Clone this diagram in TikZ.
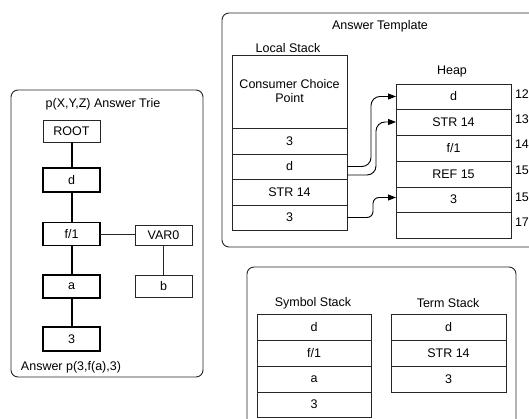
\documentclass[tikz,border=0pt]{standalone}
\usepackage{fontspec}
\setmainfont{Liberation Sans}
\usetikzlibrary{arrows.meta}
\begin{document}
\begin{tikzpicture}[x=1pt,y=-1pt,
  every node/.style={font=\fontsize{12.5}{15}\selectfont, inner sep=0pt, outer sep=0pt, text=black},
  frame/.style={draw=black!85, line width=0.9pt, rounded corners=7pt},
  thinbox/.style={draw=black!85, line width=0.8pt, minimum width=57, minimum height=22},
  thickbox/.style={draw=black, line width=1.9pt, minimum width=57, minimum height=23},
  cell/.style={draw=black!85, line width=0.8pt, minimum width=115},
  thickline/.style={draw=black, line width=2pt},
  thinline/.style={draw=black!85, line width=0.8pt},
  ptr/.style={draw=black, line width=0.9pt, rounded corners=9pt, -{Triangle[length=8pt,width=6pt]}},
  addr/.style={anchor=west}
]
\clip (0,0) rectangle (529,419);
\fill[white] (0,0) rectangle (529,419);

% ---------- Answer Trie ----------
\draw[frame] (11,90) rectangle (203,377);
\node (trietitle) at (103,104) {p(X,Y,Z) Answer Trie};
\node[thinbox] (root) at (71.5,131) {ROOT};
\node[thickbox, minimum height=24] (td) at (71.5,180) {d};
\node[thickbox] (tf) at (71.5,234) {f/1};
\node[thickbox] (ta) at (71.5,286.5) {a};
\node[thickbox, minimum height=24] (t3) at (71.5,339) {3};
\node[thinbox, minimum height=20] (var) at (163.5,235) {VAR0};
\node[thinbox] (tb) at (163.5,286) {b};
\node (answer) at (71,367) {Answer p(3,f(a),3)};
\draw[thickline] (root) -- (td);
\draw[thickline] (td) -- (tf);
\draw[thickline] (tf) -- (ta);
\draw[thickline] (ta) -- (t3);
\draw[thinline] (tf.east) -- (tf.east -| var.west);
\draw[thinline] (var) -- (tb);

% ---------- Answer Template ----------
\draw[frame] (222,13) rectangle (545,247);
\node (attitle) at (380,26) {Answer Template};
\node (lstitle) at (288,48) {Local Stack};
\node[cell, minimum height=73, align=center] (ccp) at (289.5,91.5) {Consumer Choice\\[-1pt]Point};
\node[cell, minimum height=26] (ls1) at (289.5,141) {3};
\node[cell, minimum height=25] (ls2) at (289.5,166.5) {d};
\node[cell, minimum height=26] (ls3) at (289.5,192) {STR 14};
\node[cell, minimum height=25] (ls4) at (289.5,217.5) {3};

\node (heaptitle) at (452,72) {Heap};
\node[cell, minimum height=25] (h1) at (453.5,96.5) {d};
\node[cell, minimum height=26] (h2) at (453.5,122) {STR 14};
\node[cell, minimum height=26] (h3) at (453.5,148) {f/1};
\node[cell, minimum height=26] (h4) at (453.5,174) {REF 15};
\node[cell, minimum height=25] (h5) at (453.5,199.5) {3};
\node[cell, minimum height=26] (h6) at (453.5,225) {};
\node[addr] (a12) at (515,94) {12};
\node[addr] (a13) at (515,119.5) {13};
\node[addr] (a14) at (515,144) {14};
\node[addr] (a15) at (515,170) {15};
\node[addr] (a15b) at (515,197) {15};
\node[addr] (a17) at (515,222) {17};

\coordinate (s2) at ([yshift=4]ls3.north east);
\draw[ptr] (ls2.east) -- ++(24,0) |- (h1.west);
\draw[ptr] (s2) -- ++(29,0) |- (h2.west);
\draw[ptr, rounded corners=6pt] (ls4.east) -- ++(26,0) |- ([yshift=2]h5.west);

% ---------- Symbol / Term stacks ----------
\draw[frame] (247,267) rectangle (516,440);
\node (sstitle) at (313,303) {Symbol Stack};
\node (tstitle) at (448,303) {Term Stack};
\node[cell, minimum width=114, minimum height=26] (s1) at (314,327) {d};
\node[cell, minimum width=114, minimum height=26] (sf) at (314,353) {f/1};
\node[cell, minimum width=114, minimum height=26] (sa) at (314,379) {a};
\node[cell, minimum width=114, minimum height=25] (s3) at (314,404.5) {3};
\node[cell, minimum height=26] (u1) at (448.5,327) {d};
\node[cell, minimum height=26] (u2) at (448.5,353) {STR 14};
\node[cell, minimum height=26] (u3) at (448.5,379) {3};
\end{tikzpicture}
\end{document}
